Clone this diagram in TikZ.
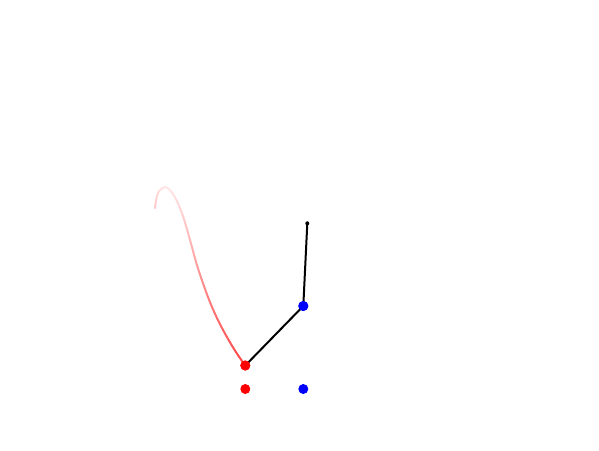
\documentclass[tikz,border=0pt]{standalone}
\usetikzlibrary{fadings}
\tikzfading[name=trailfade, top color=transparent!100, bottom color=transparent!15]
\begin{document}
\begin{tikzpicture}[x=1pt,y=-1pt,
  link/.style={draw=black,line width=2pt},
  trail/.style={draw=red,line width=2pt,line cap=round},
  reddot/.style={circle,fill=red,inner sep=0pt,minimum size=10pt},
  bluedot/.style={circle,fill=blue,inner sep=0pt,minimum size=10pt},
  pivotdot/.style={circle,fill=black,inner sep=0pt,minimum size=4pt}]
\useasboundingbox (0,0) rectangle (599,450);
% fading trail
\draw[trail,path fading=trailfade,fading angle=-15] plot[smooth,tension=0.6] coordinates {
 (155,208) (157,196) (160,190) (165,187) (170,190) (176,199) (182,213) (187,229)
 (192,247) (197,265) (203,283) (210,302) (218,320) (227,337) (236,352) (245.3,365.5)};
\node[pivotdot] (p) at (307.3,223.3) {};
\node[bluedot] (b) at (303.3,306) {};
\node[reddot] (r) at (245.3,365.5) {};
\draw[link] (p.center) -- (b.center) -- (r.center);
\node[bluedot] at (b) {};
\node[reddot] at (r) {};
\node[reddot] (r2) at (245.3,389) {};
\node[bluedot] (b2) at (303.3,389) {};
\end{tikzpicture}
\end{document}
